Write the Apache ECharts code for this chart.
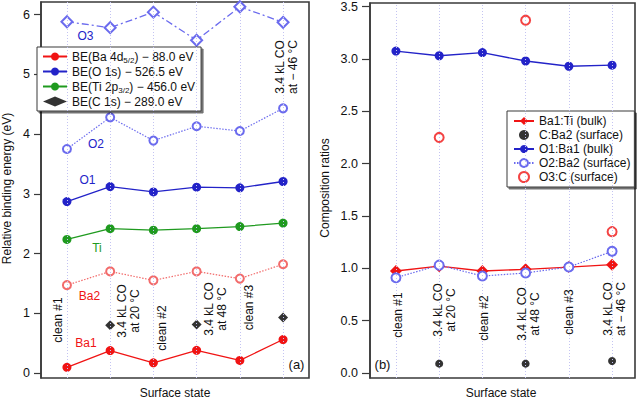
<!DOCTYPE html>
<html><head><meta charset="utf-8">
<script src="https://cdn.jsdelivr.net/npm/echarts@6/dist/echarts.min.js"></script>
<style>html,body{margin:0;padding:0;background:#fff}#c{width:640px;height:401px}</style>
</head><body><div id="c"></div>
<script>
// ---- data ----
const categories = ['clean #1', '3.4 kL CO\nat 20 °C', 'clean #2', '3.4 kL CO\nat 48 °C', 'clean #3', '3.4 kL CO\nat − 46 °C'];
const yTicksA = [0, 1, 2, 3, 4, 5, 6];
const yTicksB = [0, 0.5, 1, 1.5, 2, 2.5, 3, 3.5];
// panel (a): relative binding energies (eV)
const ba1 = [0.095, 0.375, 0.17, 0.38, 0.21, 0.56];
const ba2 = [1.47, 1.70, 1.55, 1.70, 1.58, 1.82];
const ti  = [2.235, 2.415, 2.39, 2.415, 2.45, 2.51];
const o1  = [2.87, 3.12, 3.03, 3.11, 3.10, 3.205];
const o2  = [3.75, 4.28, 3.89, 4.13, 4.05, 4.43];
const o3  = [5.88, 5.78, 6.04, 5.57, 6.13, 5.87];
const c1s = [null, 0.80, null, 0.81, null, 0.93];
// panel (b): composition ratios
const ba1Ti  = [0.974, 1.02, 0.974, 0.99, 1.012, 1.034];
const cBa2   = [null, 0.089, null, 0.089, null, 0.115];
const o1Ba1  = [3.075, 3.03, 3.06, 2.98, 2.93, 2.94];
const o2Ba2  = [0.91, 1.03, 0.926, 0.955, 1.012, 1.162];
const o3C    = [null, 2.25, null, 3.37, null, 1.35];

const nameBa = 'BE(Ba 4d5/2) − 88.0 eV', nameO = 'BE(O 1s) − 526.5 eV', nameTi = 'BE(Ti 2p3/2) − 456.0 eV', nameC = 'BE(C 1s) − 289.0 eV';

// ---- build ----
const FONT = '"Liberation Sans", Arial, sans-serif';
const RED = '#f01414', LRED = '#f26b6b', BLUE = '#2323c8', LBLUE = '#6b6bee', GREEN = '#1f9a1f', AX = '#3a3a3a';
const pts = arr => arr.map((v, i) => v == null ? null : [i, v]).filter(Boolean);

function lineS(name, arr, g, color, symbol, size, lineType, lw) {
  return {
    type: 'line', name, data: pts(arr), xAxisIndex: g, yAxisIndex: g,
    symbol, symbolSize: size, color, z: 3,
    itemStyle: { color: color, borderWidth: symbol.startsWith('empty') ? 1.2 : 0 },
    lineStyle: { color, width: lw || 1.3, type: lineType },
    emphasis: { disabled: true },
    animation: false
  };
}
function scatS(name, arr, g, color, symbol, size, bw) {
  return {
    type: 'scatter', name, data: pts(arr), xAxisIndex: g, yAxisIndex: g,
    symbol, symbolSize: size, color, z: 3,
    itemStyle: { color: color, borderWidth: bw || 0 },
    emphasis: { disabled: true },
    animation: false
  };
}
function gridLines(g) {
  return {
    type: 'line', data: [], xAxisIndex: g, yAxisIndex: g, silent: true, animation: false, z: 1,
    markLine: {
      silent: true, symbol: 'none', animation: false, label: { show: false },
      lineStyle: { color: '#c4c4f2', width: 1, type: [1, 2] },
      data: categories.map((_, i) => ({ xAxis: i }))
    }
  };
}
function yAx(g, min, max, ticks, dec, margin, tickLen) {
  return {
    gridIndex: g, type: 'value', min, max, splitLine: { show: false },
    axisLine: { show: true, onZero: false, lineStyle: { color: AX, width: 1.5 } },
    axisTick: { show: true, length: tickLen, customValues: ticks, lineStyle: { color: AX, width: 1.2 } },
    axisLabel: { customValues: ticks, margin, color: '#111', fontSize: 12.5, fontFamily: FONT,
      formatter: v => v.toFixed(dec) }
  };
}
function xAx(g, min, max) {
  return { gridIndex: g, type: 'value', min, max, show: true,
    axisLine: { show: false, onZero: false }, axisTick: { show: false }, axisLabel: { show: false }, splitLine: { show: false } };
}

const richLegend = {
  fontSize: 12, fontFamily: FONT, color: '#111', lineHeight: 15,
  rich: { s: { fontSize: 8, fontFamily: FONT, color: '#111', lineHeight: 8, padding: [7, 0, 0, 0] } }
};

const option = {
  backgroundColor: '#fff',
  animation: false,
  textStyle: { fontFamily: FONT },
  grid: [
    { left: 41, right: 331, top: 2, bottom: 23, show: true, borderColor: AX, borderWidth: 1.6 },
    { left: 370, right: 5, top: 3, bottom: 23, show: true, borderColor: AX, borderWidth: 1.6 }
  ],
  xAxis: [xAx(0, -0.6, 5.6), xAx(1, -0.6, 5.53)],
  yAxis: [yAx(0, -0.084, 6.21, yTicksA, 0, 11, 7), yAx(1, -0.048, 3.534, yTicksB, 1, 12, 8)],
  legend: [
    {
      data: [nameBa, nameO, nameTi, nameC], orient: 'vertical', left: 37, top: 47,
      itemWidth: 24, itemHeight: 10, itemGap: 0, padding: [2, 6, 2, 5],
      backgroundColor: '#fff', borderColor: AX, borderWidth: 1,
      shadowColor: 'rgba(0,0,0,0.55)', shadowOffsetX: 2, shadowOffsetY: 2, shadowBlur: 0,
      textStyle: richLegend, selectedMode: false,
      formatter: n => n.replace('4d5/2', '4d{s|5/2}').replace('2p3/2', '2p{s|3/2}')
    },
    {
      data: ['Ba1:Ti (bulk)', 'C:Ba2 (surface)', 'O1:Ba1 (bulk)', 'O2:Ba2 (surface)', 'O3:C (surface)'],
      orient: 'vertical', left: 507, top: 111,
      itemWidth: 20, itemHeight: 10, itemGap: 0, padding: [3, 4, 3, 6],
      backgroundColor: '#fff', borderColor: AX, borderWidth: 1, selectedMode: false,
      shadowColor: 'rgba(0,0,0,0.55)', shadowOffsetX: 2, shadowOffsetY: 2, shadowBlur: 0,
      textStyle: { fontSize: 12, fontFamily: FONT, color: '#111', lineHeight: 14 }
    }
  ],
  series: [
    gridLines(0), gridLines(1),
    // panel a
    lineS('Ba2', ba2, 0, LRED, 'emptyCircle', 8, [1.5, 1.5], 1.2),
    lineS(nameBa, ba1, 0, RED, 'circle', 9, 'solid'),
    lineS(nameTi, ti, 0, GREEN, 'circle', 9, 'solid'),
    lineS(nameO, o1, 0, BLUE, 'circle', 9, 'solid'),
    lineS('O2', o2, 0, LBLUE, 'emptyCircle', 8, [1.5, 1.5], 1.2),
    lineS('O3', o3, 0, LBLUE, 'emptyDiamond', 11, [7, 3, 2, 3], 1.3),
    scatS(nameC, c1s, 0, '#000', 'diamond', 10),
    // panel b
    lineS('O1:Ba1 (bulk)', o1Ba1, 1, BLUE, 'circle', 9, 'solid'),
    lineS('Ba1:Ti (bulk)', ba1Ti, 1, RED, 'diamond', 12, 'solid'),
    lineS('O2:Ba2 (surface)', o2Ba2, 1, LBLUE, 'emptyCircle', 9, [1.5, 1.5], 1.2),
    scatS('C:Ba2 (surface)', cBa2, 1, '#000', 'circle', 8),
    scatS('O3:C (surface)', o3C, 1, RED, 'emptyCircle', 9, 2.2)
  ]
};

const chart = echarts.init(document.getElementById('c'), null, { renderer: 'svg' });
chart.setOption(option);

function txt(x, y, text, opts) {
  opts = opts || {};
  return {
    type: 'text', x, y, rotation: opts.rot || 0, z: 100, silent: true,
    style: {
      text, font: (opts.size || 12) + 'px ' + FONT, fill: opts.color || '#111',
      align: 'center', verticalAlign: 'middle', textAlign: 'center', textVerticalAlign: 'middle',
      lineHeight: opts.lh || 13
    }
  };
}
const els = [];
const offA = [-9, 18.5, 8.5, 19, 9, 3], yA = [320, 311, 328, 309, 307.5, 67];
const offB = [2.5, 5, 1.5, 3, 0.5, 2], yB = [315, 310, 318, 314, 312, 309];
categories.forEach((c, i) => {
  const pa = chart.convertToPixel({ gridIndex: 0 }, [i, 0]);
  const pb = chart.convertToPixel({ gridIndex: 1 }, [i, 0]);
  els.push(txt(pa[0] + offA[i], yA[i], c, { rot: Math.PI / 2 }));
  els.push(txt(pb[0] + offB[i], yB[i], c, { rot: Math.PI / 2 }));
});
els.push(txt(85.5, 36, 'O3', { color: BLUE }));
els.push(txt(96, 144, 'O2', { color: BLUE }));
els.push(txt(87.5, 180, 'O1', { color: BLUE }));
els.push(txt(97, 248, 'Ti', { color: GREEN }));
els.push(txt(89.5, 296, 'Ba2', { color: RED }));
els.push(txt(86, 342.5, 'Ba1', { color: RED }));
els.push(txt(296.5, 364, '(a)', { size: 13 }));
els.push(txt(382.5, 364, '(b)', { size: 13 }));
els.push(txt(175, 393, 'Surface state'));
els.push(txt(501, 393, 'Surface state'));
els.push(txt(7, 188.5, 'Relative binding energy (eV)', { rot: Math.PI / 2 }));
els.push(txt(325, 188, 'Composition ratios', { rot: Math.PI / 2 }));
chart.setOption({ graphic: { elements: els } });
</script>
</body></html>
